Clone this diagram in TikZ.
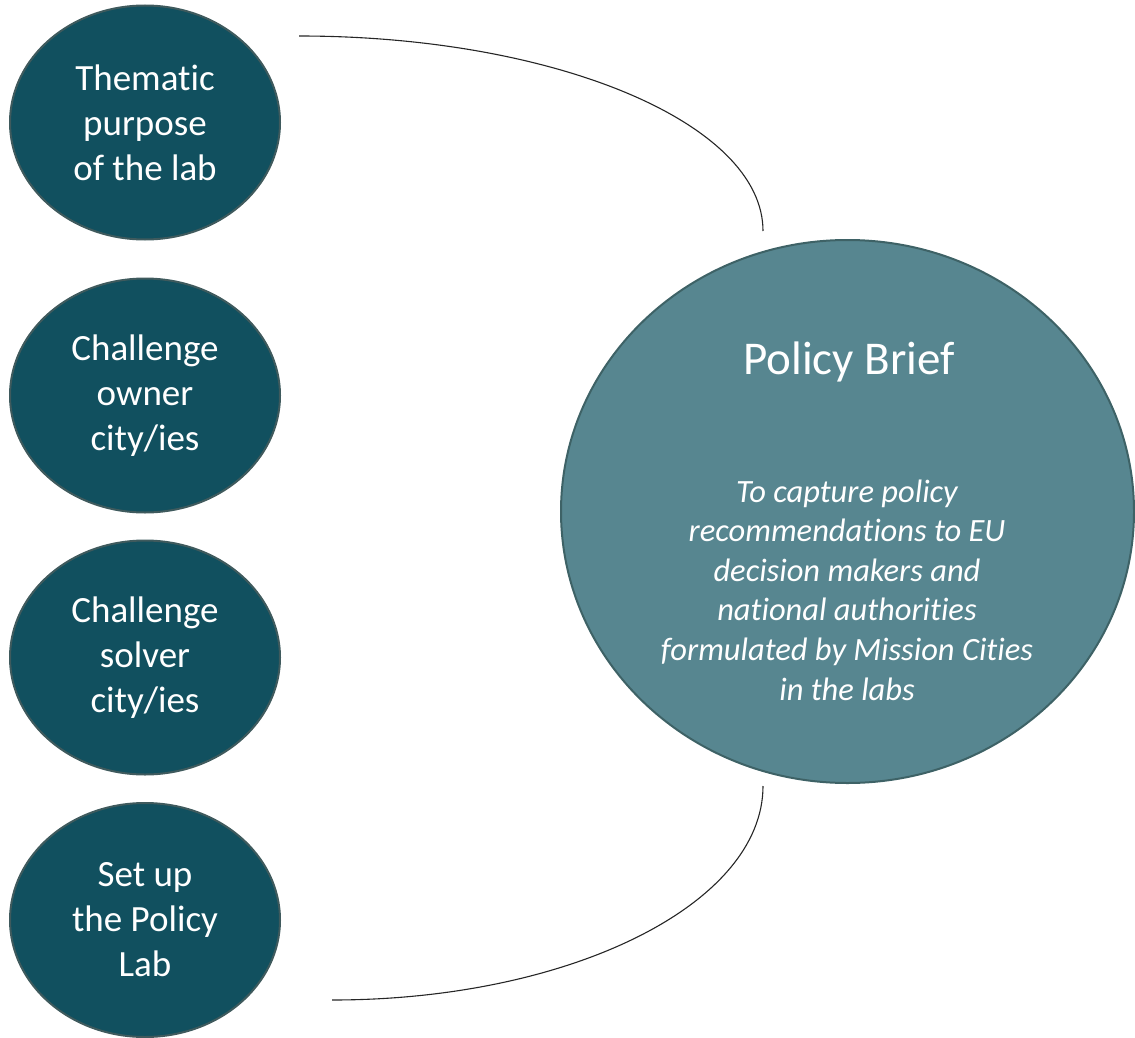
\documentclass[tikz,border=0pt]{standalone}
\usepackage{fontspec}
\setmainfont[Ligatures={NoCommon,NoContextual},RawFeature={-liga;-clig;-dlig}]{Carlito}
\usetikzlibrary{shapes.geometric}
\definecolor{darkteal}{HTML}{11505F}
\definecolor{darkedge}{HTML}{3F5A5D}
\definecolor{lightteal}{HTML}{578690}
\definecolor{lightedge}{HTML}{3E6266}
\tikzset{
  smallell/.style={ellipse, draw=darkedge, line width=2pt, fill=darkteal,
    minimum width=270pt, minimum height=234pt, inner sep=0pt,
    text=white, align=center, font=\fontsize{37}{45}\selectfont},
  bigell/.style={ellipse, draw=lightedge, line width=2pt, fill=lightteal,
    minimum width=573pt, minimum height=543pt, inner sep=0pt},
  titletext/.style={text=white, align=center, font=\fontsize{47}{55}\selectfont},
  bodytext/.style={text=white, align=center, font=\itshape\fontsize{32.5}{39.6}\selectfont},
  conn/.style={draw=black!85, line width=1.1pt}
}
\begin{document}
\begin{tikzpicture}[x=1pt,y=-1pt]
\useasboundingbox (0,0) rectangle (1135,1038);
\node[smallell] (n1) at (145,122.5) {Thematic\\purpose\\of the lab};
\node[smallell] (n2) at (145,395.5) {Challenge\\owner\\city/ies};
\node[smallell] (n3) at (145,657.5) {Challenge\\solver\\city/ies};
\node[smallell] (n4) at (145,920) {Set up\\the Policy\\Lab};
\node[bigell] (pb) at (847.5,511.5) {};
\node[titletext] (pbt) at (849,362) {Policy Brief};
\node[bodytext] (pbb) at (847,590) {To capture policy\\recommendations to EU\\decision makers and\\national authorities\\formulated by Mission Cities\\in the labs};
\coordinate (a1) at (299,36);
\coordinate (a2) at (763,231);
\coordinate (b1) at (763,786);
\coordinate (b2) at (332,1000);
\draw[conn] (a1) .. controls (555.3,36) and (763,123.3) .. (a2);
\draw[conn] (b1) .. controls (763,904.2) and (570,1000) .. (b2);
\end{tikzpicture}
\end{document}
